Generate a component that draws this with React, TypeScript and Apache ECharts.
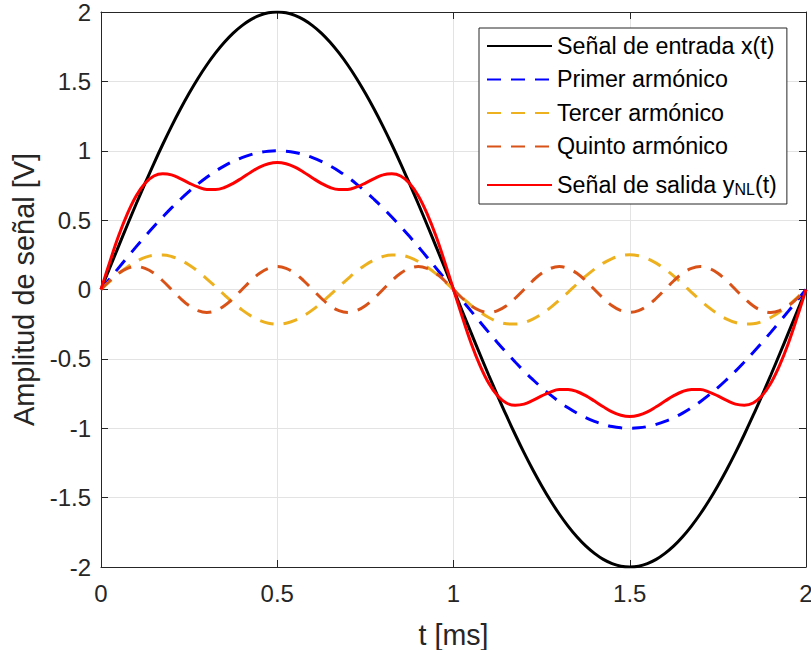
import React, { useEffect, useRef } from "react";
import * as echarts from "echarts";

const timeMs = [0, 0.025, 0.05, 0.075, 0.1, 0.125, 0.15, 0.175, 0.2, 0.225, 0.25, 0.275, 0.3, 0.325, 0.35, 0.375, 0.4, 0.425, 0.45, 0.475, 0.5, 0.525, 0.55, 0.575, 0.6, 0.625, 0.65, 0.675, 0.7, 0.725, 0.75, 0.775, 0.8, 0.825, 0.85, 0.875, 0.9, 0.925, 0.95, 0.975, 1, 1.025, 1.05, 1.075, 1.1, 1.125, 1.15, 1.175, 1.2, 1.225, 1.25, 1.275, 1.3, 1.325, 1.35, 1.375, 1.4, 1.425, 1.45, 1.475, 1.5, 1.525, 1.55, 1.575, 1.6, 1.625, 1.65, 1.675, 1.7, 1.725, 1.75, 1.775, 1.8, 1.825, 1.85, 1.875, 1.9, 1.925, 1.95, 1.975, 2];

const inputSignal = [0, 0.157, 0.313, 0.467, 0.618, 0.765, 0.908, 1.045, 1.176, 1.299, 1.414, 1.521, 1.618, 1.705, 1.782, 1.848, 1.902, 1.945, 1.975, 1.994, 2, 1.994, 1.975, 1.945, 1.902, 1.848, 1.782, 1.705, 1.618, 1.521, 1.414, 1.299, 1.176, 1.045, 0.908, 0.765, 0.618, 0.467, 0.313, 0.157, 0,
  -0.157, -0.313, -0.467, -0.618, -0.765, -0.908, -1.045, -1.176, -1.299, -1.414, -1.521, -1.618, -1.705, -1.782, -1.848, -1.902, -1.945, -1.975, -1.994, -2, -1.994, -1.975, -1.945, -1.902, -1.848, -1.782, -1.705, -1.618, -1.521, -1.414, -1.299, -1.176, -1.045, -0.908, -0.765, -0.618, -0.467, -0.313, -0.157, 0];

const firstHarmonic = [0, 0.078, 0.156, 0.233, 0.309, 0.383, 0.454, 0.522, 0.588, 0.649, 0.707, 0.76, 0.809, 0.853, 0.891, 0.924, 0.951, 0.972, 0.988, 0.997, 1, 0.997, 0.988, 0.972, 0.951, 0.924, 0.891, 0.853, 0.809, 0.76, 0.707, 0.649, 0.588, 0.522, 0.454, 0.383, 0.309, 0.233, 0.156, 0.078, 0,
  -0.078, -0.156, -0.233, -0.309, -0.383, -0.454, -0.522, -0.588, -0.649, -0.707, -0.76, -0.809, -0.853, -0.891, -0.924, -0.951, -0.972, -0.988, -0.997, -1, -0.997, -0.988, -0.972, -0.951, -0.924, -0.891, -0.853, -0.809, -0.76, -0.707, -0.649, -0.588, -0.522, -0.454, -0.383, -0.309, -0.233, -0.156, -0.078, 0];

const thirdHarmonic = [0, 0.058, 0.114, 0.162, 0.202, 0.231, 0.247, 0.249, 0.238, 0.213, 0.177, 0.131, 0.077, 0.02, -0.039, -0.096, -0.147, -0.19, -0.223, -0.243, -0.25, -0.243, -0.223, -0.19, -0.147, -0.096, -0.039, 0.02, 0.077, 0.131, 0.177, 0.213, 0.238, 0.249, 0.247, 0.231, 0.202, 0.162, 0.114, 0.058, 0,
  -0.058, -0.114, -0.162, -0.202, -0.231, -0.247, -0.249, -0.238, -0.213, -0.177, -0.131, -0.077, -0.02, 0.039, 0.096, 0.147, 0.19, 0.223, 0.243, 0.25, 0.243, 0.223, 0.19, 0.147, 0.096, 0.039, -0.02, -0.077, -0.131, -0.177, -0.213, -0.238, -0.249, -0.247, -0.231, -0.202, -0.162, -0.114, -0.058, 0];

const fifthHarmonic = [0, 0.063, 0.117, 0.152, 0.165, 0.152, 0.117, 0.063, 0, -0.063, -0.117, -0.152, -0.165, -0.152, -0.117, -0.063,
  0, 0.063, 0.117, 0.152, 0.165, 0.152, 0.117, 0.063, 0, -0.063, -0.117, -0.152, -0.165, -0.152, -0.117, -0.063,
  0, 0.063, 0.117, 0.152, 0.165, 0.152, 0.117, 0.063, 0, -0.063, -0.117, -0.152, -0.165, -0.152, -0.117, -0.063,
  0, 0.063, 0.117, 0.152, 0.165, 0.152, 0.117, 0.063, 0, -0.063, -0.117, -0.152, -0.165, -0.152, -0.117, -0.063,
  0, 0.063, 0.117, 0.152, 0.165, 0.152, 0.117, 0.063, 0, -0.063, -0.117, -0.152, -0.165, -0.152, -0.117, -0.063, 0];

const outputSignal = [0, 0.199, 0.387, 0.547, 0.676, 0.766, 0.818, 0.834, 0.826, 0.799, 0.767, 0.739, 0.721, 0.721, 0.735, 0.765, 0.804, 0.845, 0.882, 0.906, 0.915, 0.906, 0.882, 0.845, 0.804, 0.765, 0.735, 0.721, 0.721, 0.739, 0.767, 0.799, 0.826, 0.834, 0.818, 0.766, 0.676, 0.547, 0.387, 0.199, 0,
  -0.199, -0.387, -0.547, -0.676, -0.766, -0.818, -0.834, -0.826, -0.799, -0.767, -0.739, -0.721, -0.721, -0.735, -0.765, -0.804, -0.845, -0.882, -0.906, -0.915, -0.906, -0.882, -0.845, -0.804, -0.765, -0.735, -0.721, -0.721, -0.739, -0.767, -0.799, -0.826, -0.834, -0.818, -0.766, -0.676, -0.547, -0.387, -0.199, 0];

const seriesNames = [
  "Señal de entrada x(t)",
  "Primer armónico",
  "Tercer armónico",
  "Quinto armónico",
  "Señal de salida yNL(t)",
];

const xTicks = { min: 0, max: 2, interval: 0.5 };
const yTicks = { min: -2, max: 2, interval: 0.5 };

const FONT = "'Liberation Sans', Arial, Helvetica, sans-serif";
const AXIS = "#262626";
const GRID = "#e3e3e3";

export default function App() {
  const ref = useRef<HTMLDivElement>(null);

  useEffect(() => {
    if (!ref.current) return;
    const chart = echarts.init(ref.current, null, { renderer: "svg" });

    const pairs = (arr: number[]) => timeMs.map((t, i) => [t, arr[i]]);
    const styles = [
      { color: "#000000", type: "solid" as any },
      { color: "#0000ff", type: [14, 10] as any },
      { color: "#edb120", type: [14, 10] as any },
      { color: "#d95319", type: [14, 10] as any },
      { color: "#ff0000", type: "solid" as any },
    ];
    const values = [inputSignal, firstHarmonic, thirdHarmonic, fifthHarmonic, outputSignal];

    const series = values.map((arr, i) => ({
      type: "line",
      name: seriesNames[i],
      data: pairs(arr),
      showSymbol: false,
      symbol: "none",
      smooth: 0.4,
      lineStyle: { color: styles[i].color, width: 3, type: styles[i].type },
      itemStyle: { color: styles[i].color },
      xAxisIndex: 0,
      yAxisIndex: 0,
    }));

    const tickStyle = { show: true, inside: true, length: 7, lineStyle: { color: AXIS, width: 1 } };
    const lineStyle = { show: true, onZero: false, lineStyle: { color: AXIS, width: 1 } };

    chart.setOption({
      animation: false,
      backgroundColor: "#ffffff",
      grid: {
        left: 101,
        right: 5,
        top: 12,
        bottom: 83,
        containLabel: false,
        outerBoundsMode: "none",
      },
      xAxis: [
        {
          type: "value",
          ...xTicks,
          position: "bottom",
          axisLine: lineStyle,
          axisTick: tickStyle,
          axisLabel: { margin: 14, fontSize: 24, fontFamily: FONT, color: AXIS },
          splitLine: { show: true, lineStyle: { color: GRID, width: 1 } },
          name: "t [ms]",
          nameLocation: "middle",
          nameGap: 53,
          nameTextStyle: { fontSize: 28.6, fontFamily: FONT, color: AXIS },
        },
        {
          type: "value",
          ...xTicks,
          position: "top",
          axisLine: lineStyle,
          axisTick: tickStyle,
          axisLabel: { show: false },
          splitLine: { show: false },
        },
      ],
      yAxis: [
        {
          type: "value",
          ...yTicks,
          position: "left",
          axisLine: lineStyle,
          axisTick: tickStyle,
          axisLabel: { margin: 10, fontSize: 24, fontFamily: FONT, color: AXIS },
          splitLine: { show: true, lineStyle: { color: GRID, width: 1 } },
          name: "Amplitud de señal [V]",
          nameLocation: "middle",
          nameGap: 60,
          nameTextStyle: { fontSize: 28.9, fontFamily: FONT, color: AXIS },
        },
        {
          type: "value",
          ...yTicks,
          position: "right",
          axisLine: lineStyle,
          axisTick: tickStyle,
          axisLabel: { show: false },
          splitLine: { show: false },
        },
      ],
      legend: {
        show: true,
        orient: "vertical",
        left: 479,
        top: 28,
        padding: [6, 10, 7, 7],
        itemGap: 10.5,
        itemWidth: 65,
        itemHeight: 14,
        itemTextGap: 5,
        backgroundColor: "#ffffff",
        borderColor: AXIS,
        borderWidth: 1,
        borderRadius: 0,
        itemStyle: { opacity: 0, borderWidth: 0 },
        data: seriesNames,
        formatter: (name: string) =>
          name === seriesNames[4] ? "{n|Señal de salida y}{s|NL}{n|(t)}" : `{n|${name}}`,
        textStyle: {
          fontFamily: FONT,
          fontSize: 23.3,
          color: "#000000",
          rich: {
            n: { fontFamily: FONT, fontSize: 23.3, lineHeight: 24, verticalAlign: "top", color: "#000000" },
            s: { fontFamily: FONT, fontSize: 16, lineHeight: 14, padding: [13, 0, 0, 0], verticalAlign: "bottom", color: "#000000" },
          },
        },
      },
      series,
    });

    return () => chart.dispose();
  }, []);

  return (
    <div
      ref={ref}
      style={{ position: "fixed", left: 0, top: 0, width: 811, height: 650, background: "#fff" }}
    />
  );
}
